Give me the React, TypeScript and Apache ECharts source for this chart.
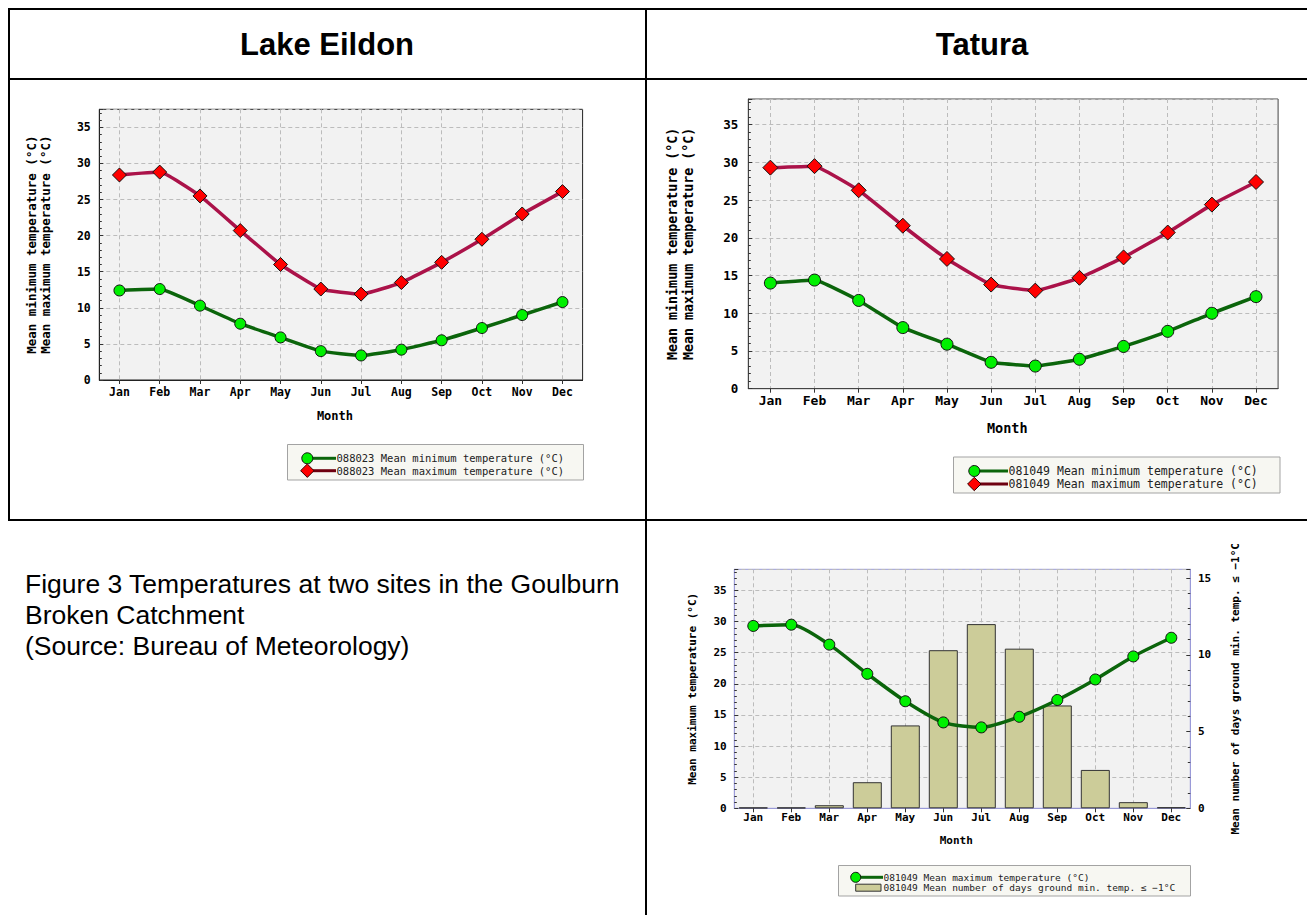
import React, { useEffect, useRef } from 'react';
import * as echarts from 'echarts';

const months = ['Jan', 'Feb', 'Mar', 'Apr', 'May', 'Jun', 'Jul', 'Aug', 'Sep', 'Oct', 'Nov', 'Dec'];

const eildonMin = [12.4, 12.6, 10.3, 7.8, 5.9, 4.0, 3.4, 4.2, 5.5, 7.2, 9.0, 10.8];
const eildonMax = [28.4, 28.8, 25.5, 20.7, 16.0, 12.6, 11.9, 13.5, 16.3, 19.5, 23.0, 26.1];

const taturaMin = [14.0, 14.4, 11.7, 8.1, 5.9, 3.5, 3.0, 3.9, 5.6, 7.6, 10.0, 12.2];
const taturaMax = [29.3, 29.5, 26.3, 21.6, 17.2, 13.8, 13.0, 14.7, 17.4, 20.7, 24.4, 27.4];

const frostDays = [0.05, 0.05, 0.2, 1.7, 5.4, 10.3, 12.0, 10.4, 6.7, 2.5, 0.4, 0.07];

const legendEildon = [
  '088023 Mean minimum temperature (°C)',
  '088023 Mean maximum temperature (°C)',
];
const legendTatura = [
  '081049 Mean minimum temperature (°C)',
  '081049 Mean maximum temperature (°C)',
];
const legendFrost = [
  '081049 Mean maximum temperature (°C)',
  '081049 Mean number of days ground min. temp. ≤ −1°C',
];

const captionLines = [
  'Figure 3 Temperatures at two sites in the Goulburn',
  'Broken Catchment',
  '(Source: Bureau of Meteorology)',
];

const MONO = '"DejaVu Sans Mono", "Liberation Mono", monospace';
const SANS = '"Liberation Sans", Arial, sans-serif';

const GREEN_LINE = '#0b650b';
const GREEN_DOT = '#00f000';
const RED_LINE = '#ab1249';
const RED_DOT = '#ff0000';

function fiveLabel(v: number) {
  return Math.abs(v % 5) < 1e-9 ? String(v) : '';
}

function catAxis(gridIndex: number, fs: number, nameFs: number, margin: number, nameGap: number, lineColor: string) {
  return {
    type: 'category',
    gridIndex,
    data: months,
    boundaryGap: true,
    axisLine: { show: true, lineStyle: { color: lineColor, width: 1 } },
    axisTick: { show: true, alignWithLabel: true, inside: false, length: 4, lineStyle: { color: '#333' } },
    axisLabel: { interval: 0, fontFamily: MONO, fontWeight: 'bold', fontSize: fs, color: '#000', margin },
    splitLine: { show: true, alignWithLabel: true, interval: 0, lineStyle: { type: [4, 3], color: '#bcbcbc', width: 1 } },
    name: 'Month',
    nameLocation: 'middle',
    nameGap,
    nameTextStyle: { fontFamily: MONO, fontWeight: 'bold', fontSize: nameFs, color: '#000', padding: [0, 12, 0, 0] },
  };
}

function valAxis(gridIndex: number, max: number, fs: number, margin: number, lineColor: string, extra: any) {
  return {
    type: 'value',
    gridIndex,
    min: 0,
    max,
    interval: 5,
    axisLine: { show: true, lineStyle: { color: lineColor, width: 1 } },
    axisTick: { show: true, inside: true, length: 4, lineStyle: { color: '#333' } },
    minorTick: { show: true, splitNumber: 5, length: 2.5, lineStyle: { color: '#333' } },
    axisLabel: { fontFamily: MONO, fontWeight: 'bold', fontSize: fs, color: '#000', margin, formatter: fiveLabel },
    splitLine: { show: true, lineStyle: { type: [4, 3], color: '#bcbcbc', width: 1 } },
    ...extra,
  };
}

function diamond(cx: number, cy: number, r: number) {
  return [[cx, cy - r], [cx + r, cy], [cx, cy + r], [cx - r, cy]];
}

function legendGraphics(
  box: { x: number; y: number; w: number; h: number },
  symX: number,
  lineEnd: number,
  textX: number,
  rows: number[],
  texts: string[],
  fs: number,
  kinds: string[],
  lineColors: string[],
  symR: number
) {
  const els: any[] = [
    {
      type: 'rect',
      silent: true,
      shape: { x: box.x, y: box.y, width: box.w, height: box.h },
      style: { fill: '#f7f7f2', stroke: '#a3a3a3', lineWidth: 1 },
    },
  ];
  rows.forEach((ry, i) => {
    const kind = kinds[i];
    if (kind === 'bar') {
      els.push({
        type: 'rect',
        silent: true,
        shape: { x: symX, y: ry - 3.5, width: lineEnd - symX - 2, height: 7 },
        style: { fill: '#cccc99', stroke: '#333', lineWidth: 1 },
      });
    } else {
      els.push({
        type: 'line',
        silent: true,
        shape: { x1: symX, y1: ry, x2: lineEnd, y2: ry },
        style: { stroke: lineColors[i], lineWidth: 3 },
      });
      if (kind === 'circle') {
        els.push({
          type: 'circle',
          silent: true,
          shape: { cx: symX, cy: ry, r: symR },
          style: { fill: GREEN_DOT, stroke: '#111', lineWidth: 1 },
        });
      } else {
        els.push({
          type: 'polygon',
          silent: true,
          shape: { points: diamond(symX, ry, symR + 1.2) },
          style: { fill: RED_DOT, stroke: '#300', lineWidth: 1 },
        });
      }
    }
    els.push({
      type: 'text',
      silent: true,
      x: textX,
      y: ry,
      style: {
        text: texts[i],
        font: `normal ${fs}px ${MONO}`,
        fill: '#222',
        align: 'left',
        verticalAlign: 'middle',
      },
    });
  });
  return els;
}

function buildOption() {
  const border = (x1: number, y1: number, x2: number, y2: number) => ({
    type: 'line',
    silent: true,
    shape: { x1, y1, x2, y2 },
    style: { stroke: '#000', lineWidth: 2 },
  });

  const graphic: any[] = [
    border(8, 9, 1307, 9),
    border(8, 79, 1307, 79),
    border(8, 520, 1307, 520),
    border(9, 8, 9, 521),
    border(646, 8, 646, 915),
    {
      type: 'text',
      silent: true,
      x: 327,
      y: 44,
      style: { text: 'Lake Eildon', font: `bold 31px ${SANS}`, fill: '#000', align: 'center', verticalAlign: 'middle' },
    },
    {
      type: 'text',
      silent: true,
      x: 982,
      y: 44,
      style: { text: 'Tatura', font: `bold 31px ${SANS}`, fill: '#000', align: 'center', verticalAlign: 'middle' },
    },
    ...captionLines.map((t, i) => ({
      type: 'text',
      silent: true,
      x: 25,
      y: 584 + i * 31,
      style: { text: t, font: `normal 26.5px ${SANS}`, fill: '#000', align: 'left', verticalAlign: 'middle' },
    })),
    ...legendGraphics(
      { x: 287.5, y: 444.5, w: 296, h: 35.5 },
      307.3, 336, 336.5, [458.3, 470.7], legendEildon, 10.5,
      ['circle', 'diamond'], [GREEN_LINE, '#6e0010'], 5.5
    ),
    ...legendGraphics(
      { x: 953.5, y: 457, w: 326.5, h: 36 },
      974.3, 1008, 1008.5, [471, 484], legendTatura, 11.5,
      ['circle', 'diamond'], [GREEN_LINE, '#6e0010'], 5.5
    ),
    ...legendGraphics(
      { x: 838.5, y: 865.5, w: 352, h: 30.5 },
      855.7, 883, 883.5, [877.3, 887.7], legendFrost, 9.5,
      ['circle', 'bar'], [GREEN_LINE, '#333'], 5
    ),
  ];

  const lineSeries = (data: number[], xi: number, yi: number, color: string, sym: string, symColor: string, size: number, name: string, smooth: number) => ({
    type: 'line',
    name,
    data,
    xAxisIndex: xi,
    yAxisIndex: yi,
    smooth,
    symbol: sym,
    symbolSize: size,
    showSymbol: true,
    lineStyle: { color, width: 3.5 },
    itemStyle: { color: symColor, borderColor: '#111', borderWidth: 1 },
    z: 5,
  });

  return {
    animation: false,
    backgroundColor: '#ffffff',
    grid: [
      { left: 99.3, top: 109.3, width: 483.3, height: 270.7, show: true, backgroundColor: '#f2f2f2', borderColor: '#222', borderWidth: 1, containLabel: false, outerBoundsMode: 'none' },
      { left: 748.3, top: 99, width: 529.8, height: 289.7, show: true, backgroundColor: '#f2f2f2', borderColor: '#444', borderWidth: 1, containLabel: false, outerBoundsMode: 'none' },
      { left: 734.3, top: 569.3, width: 456, height: 239, show: true, backgroundColor: '#f2f2f2', borderColor: '#9a9ad8', borderWidth: 1, containLabel: false, outerBoundsMode: 'none' },
    ],
    xAxis: [
      catAxis(0, 11.5, 12, 6, 30, '#222'),
      catAxis(1, 13, 13.5, 5, 32, '#444'),
      catAxis(2, 11, 11, 4, 27, '#9a9ad8'),
    ],
    yAxis: [
      valAxis(0, 37.5, 11.5, 8.5, '#222', {
        name: 'Mean minimum temperature (°C)\nMean maximum temperature (°C)',
        nameLocation: 'middle',
        nameRotate: 90,
        nameGap: 47,
        nameTextStyle: { fontFamily: MONO, fontWeight: 'bold', fontSize: 12.5, lineHeight: 14, color: '#000', align: 'center' },
      }),
      valAxis(1, 38.4, 12.5, 10, '#444', {
        name: 'Mean minimum temperature (°C)\nMean maximum temperature (°C)',
        nameLocation: 'middle',
        nameRotate: 90,
        nameGap: 52,
        nameTextStyle: { fontFamily: MONO, fontWeight: 'bold', fontSize: 13.3, lineHeight: 15.6, color: '#000', align: 'center' },
      }),
      valAxis(2, 38.4, 11, 7.6, '#9a9ad8', {
        name: 'Mean maximum temperature (°C)',
        nameLocation: 'middle',
        nameRotate: 90,
        nameGap: 36,
        nameTextStyle: { fontFamily: MONO, fontWeight: 'bold', fontSize: 11, color: '#000' },
      }),
      valAxis(2, 15.57, 11, 7.6, '#9a9ad8', {
        position: 'right',
        splitLine: { show: false },
        name: 'Mean number of days ground min. temp. ≤ −1°C',
        nameLocation: 'middle',
        nameRotate: 90,
        nameGap: 40,
        nameTextStyle: { fontFamily: MONO, fontWeight: 'bold', fontSize: 11, color: '#000' },
      }),
    ],
    series: [
      lineSeries(eildonMin, 0, 0, GREEN_LINE, 'circle', GREEN_DOT, 11, 'Lake Eildon min', 0.12),
      lineSeries(eildonMax, 0, 0, RED_LINE, 'diamond', RED_DOT, 14, 'Lake Eildon max', 0.12),
      lineSeries(taturaMin, 1, 1, GREEN_LINE, 'circle', GREEN_DOT, 12, 'Tatura min', 0.1),
      lineSeries(taturaMax, 1, 1, RED_LINE, 'diamond', RED_DOT, 15, 'Tatura max', 0.1),
      {
        type: 'bar',
        name: 'Frost days',
        data: frostDays,
        xAxisIndex: 2,
        yAxisIndex: 3,
        barWidth: 29,
        itemStyle: { color: '#cccc99', borderColor: '#333', borderWidth: 1 },
        z: 3,
      },
      lineSeries(taturaMax, 2, 2, GREEN_LINE, 'circle', GREEN_DOT, 11, 'Tatura max (with frost)', 0.25),
    ],
    graphic,
  };
}

export default function App() {
  const ref = useRef<HTMLDivElement>(null);
  useEffect(() => {
    if (!ref.current) return;
    const chart = echarts.init(ref.current, undefined, { renderer: 'svg' });
    chart.setOption(buildOption() as any);
    return () => {
      chart.dispose();
    };
  }, []);
  return (
    <div
      ref={ref}
      style={{ position: 'absolute', left: 0, top: 0, width: 1307, height: 915, background: '#fff' }}
    />
  );
}
